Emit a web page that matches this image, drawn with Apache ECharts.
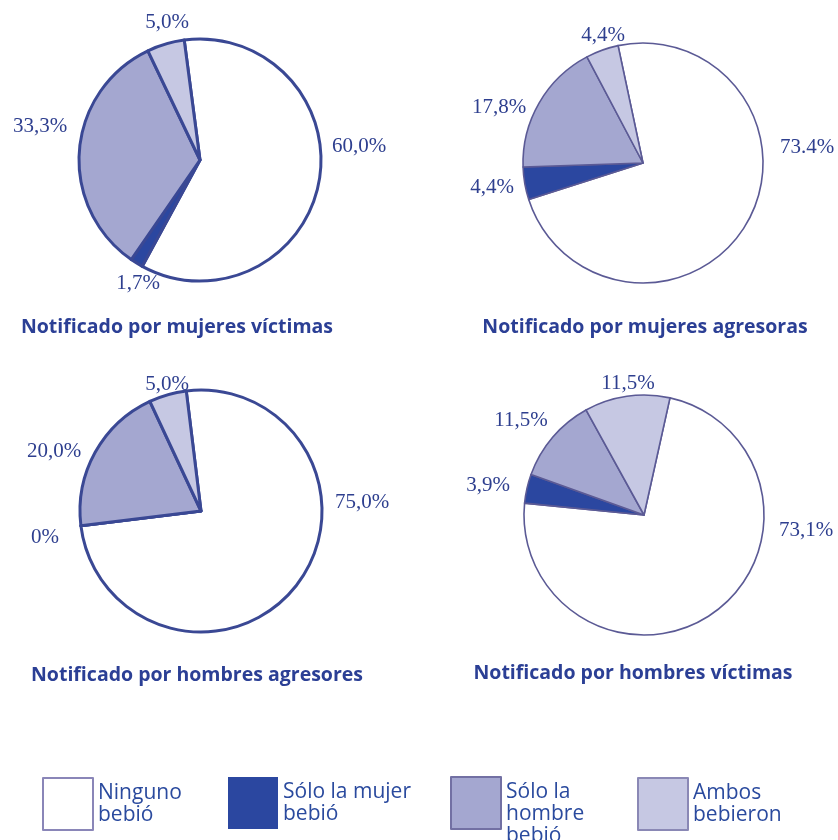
<!DOCTYPE html>
<html>
<head>
<meta charset="utf-8">
<script src="https://cdn.jsdelivr.net/npm/echarts@6/dist/echarts.min.js"></script>
<style>
html,body{margin:0;padding:0;background:#fff;}
#chart{width:838px;height:840px;}
</style>
</head>
<body>
<div id="chart"></div>
<script>
// ---- data ----
const categories = ['Ninguno bebió', 'Sólo la mujer bebió', 'Sólo la hombre bebió', 'Ambos bebieron'];
const legendLabels = ['Ninguno\nbebió', 'Sólo la mujer\nbebió', '\nSólo la\nhombre\nbebió', 'Ambos\nbebieron'];
const chartTitles = ['Notificado por mujeres víctimas', 'Notificado por mujeres agresoras', 'Notificado por hombres agresores', 'Notificado por hombres víctimas'];
const valuesMujeresVictimas = [60.0, 1.7, 33.3, 5.0];
const valuesMujeresAgresoras = [73.4, 4.4, 17.8, 4.4];
const valuesHombresAgresores = [75.0, 0, 20.0, 5.0];
const valuesHombresVictimas = [73.1, 3.9, 11.5, 11.5];
const labelsMujeresVictimas = ['60,0%', '1,7%', '33,3%', '5,0%'];
const labelsMujeresAgresoras = ['73.4%', '4,4%', '17,8%', '4,4%'];
const labelsHombresAgresores = ['75,0%', '0%', '20,0%', '5,0%'];
const labelsHombresVictimas = ['73,1%', '3,9%', '11,5%', '11,5%'];

const allValues = [valuesMujeresVictimas, valuesMujeresAgresoras, valuesHombresAgresores, valuesHombresVictimas];
const allLabels = [labelsMujeresVictimas, labelsMujeresAgresoras, labelsHombresAgresores, labelsHombresVictimas];

// ---- layout / style ----
const sliceColors = ['#ffffff', '#2b47a0', '#a4a7d0', '#c6c8e3'];
const pieLayout = [
  {center: [200, 160], radius: 121, startAngle: 97.5, border: 3, borderColor: '#3a4894'},
  {center: [643, 163], radius: 120, startAngle: 102, border: 1.6, borderColor: '#5b5a95'},
  {center: [201, 511], radius: 121, startAngle: 97, border: 3, borderColor: '#3a4894'},
  {center: [644, 515], radius: 120, startAngle: 77.5, border: 1.6, borderColor: '#5b5a95'}
];
const labelPlacement = [
  [[359, 146], [138, 283], [40, 126], [167, 22]],
  [[807, 147], [492, 187], [499, 107], [603, 35]],
  [[362, 502], [45, 537], [54, 451], [167, 384]],
  [[806, 530], [488, 485], [521, 420], [628, 383]]
];
const titlePlacement = [[177, 317], [645, 317], [197, 665], [633, 663]];
const legendPlacement = [[42, 777], [228, 777], [450, 759], [637, 777]];
const legendBorder = [
  {color: '#ffffff', borderColor: '#8a86b8', borderWidth: 2},
  {color: '#2b47a0', borderColor: '#2b47a0', borderWidth: 0},
  {color: '#a4a7d0', borderColor: '#7270a3', borderWidth: 2},
  {color: '#c6c8e3', borderColor: '#8a88b5', borderWidth: 2}
];

const chart = echarts.init(document.getElementById('chart'), null, {renderer: 'canvas'});

const series = allValues.map((vals, si) => ({
  type: 'pie',
  center: pieLayout[si].center,
  radius: pieLayout[si].radius,
  startAngle: pieLayout[si].startAngle,
  clockwise: true,
  animation: false,
  silent: true,
  avoidLabelOverlap: false,
  itemStyle: {borderColor: pieLayout[si].borderColor, borderWidth: pieLayout[si].border, borderJoin: 'round'},
  label: {
    show: true,
    position: 'outside',
    fontFamily: 'Liberation Serif',
    fontSize: 21,
    color: '#2e3f8f',
    formatter: (p) => allLabels[si][p.dataIndex]
  },
  labelLine: {show: false},
  labelLayout: (params) => {
    const pos = labelPlacement[params.seriesIndex][params.dataIndex];
    return {x: pos[0], y: pos[1], align: 'center', verticalAlign: 'middle'};
  },
  emphasis: {disabled: true},
  data: vals.map((v, i) => ({name: categories[i], value: v, itemStyle: {color: sliceColors[i]}}))
}));

const titles = chartTitles.map((t, i) => ({
  text: t,
  left: titlePlacement[i][0],
  top: titlePlacement[i][1],
  textAlign: 'center',
  padding: 0,
  textStyle: {fontFamily: 'Open Sans', fontWeight: 'bold', fontSize: 19.5, color: '#2b3f95'}
}));

const legends = categories.map((c, i) => ({
  left: legendPlacement[i][0],
  top: legendPlacement[i][1],
  padding: 0,
  orient: 'vertical',
  icon: 'rect',
  itemWidth: 50,
  itemHeight: 52,
  selectedMode: false,
  data: [{name: c, itemStyle: legendBorder[i]}],
  formatter: () => legendLabels[i],
  textStyle: {
    fontFamily: 'Open Sans',
    fontSize: 21,
    lineHeight: 22,
    color: '#2a4a9e'
  }
}));

chart.setOption({
  backgroundColor: '#ffffff',
  title: titles,
  legend: legends,
  series: series
});
</script>
</body>
</html>
